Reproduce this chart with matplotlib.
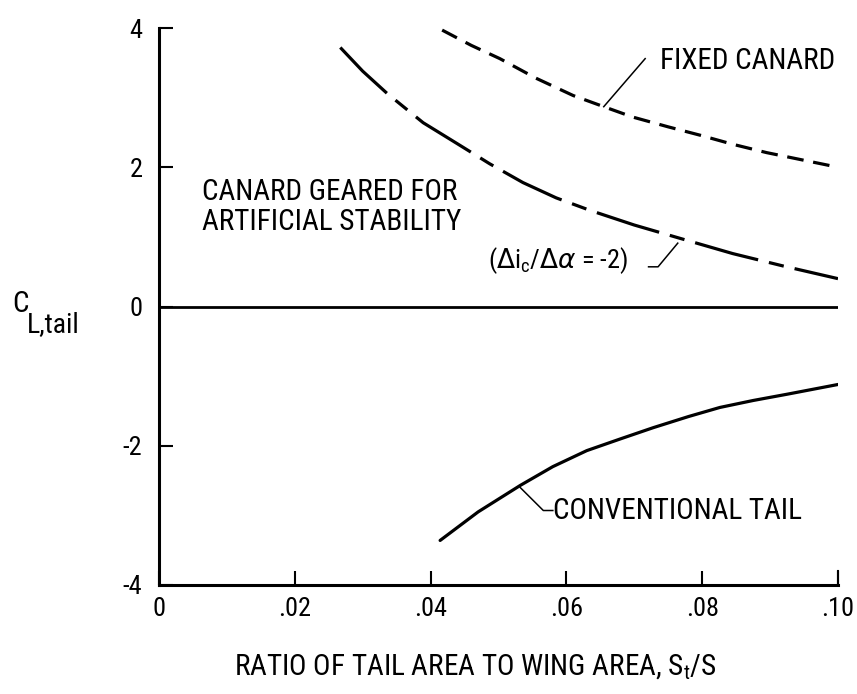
import matplotlib
matplotlib.use('Agg')
import matplotlib.pyplot as plt
from matplotlib import font_manager

# the scan uses a narrow lettering; take a condensed face if one is installed
names = {f.name for f in font_manager.fontManager.ttflist}
family = 'Liberation Sans'
for cand in ['Liberation Sans Narrow', 'Roboto Condensed', 'Open Sans Condensed']:
    if cand in names:
        family = cand
        break

plt.rcParams['font.family'] = [family, 'DejaVu Sans']
plt.rcParams['lines.scale_dashes'] = False

# values
conv_x = [0.0414, 0.0470, 0.0532, 0.0580, 0.0630, 0.0680, 0.0728, 0.0780, 0.0826, 0.0875, 0.0925, 0.1000]
conv_y = [-3.36, -2.95, -2.57, -2.30, -2.07, -1.90, -1.74, -1.58, -1.45, -1.35, -1.26, -1.12]

geared_x = [0.0267, 0.0300, 0.0336, 0.0389, 0.0439, 0.0487, 0.0536, 0.0585, 0.0635, 0.0700, 0.0767, 0.0845, 0.0920, 0.1000]
geared_y = [3.72, 3.38, 3.06, 2.64, 2.34, 2.05, 1.78, 1.56, 1.38, 1.17, 0.98, 0.76, 0.58, 0.40]

fixed_x = [0.0417, 0.0460, 0.0502, 0.0555, 0.0610, 0.0655, 0.0698, 0.0750, 0.0797, 0.0845, 0.0895, 0.0950, 0.1000]
fixed_y = [3.97, 3.75, 3.56, 3.28, 3.03, 2.87, 2.72, 2.58, 2.46, 2.33, 2.21, 2.10, 2.00]

xticks = [0, 0.02, 0.04, 0.06, 0.08, 0.10]
xtick_labels = ['0', '.02', '.04', '.06', '.08', '.10']
yticks = [-4, -2, 0, 2, 4]
ytick_labels = ['-4', '-2', '0', '2', '4']

fig = plt.figure(figsize=(8.57, 6.94), dpi=100)
ax = fig.add_axes([159 / 857, 1 - 585 / 694, (838 - 159) / 857, (585 - 28) / 694])

ax.axhline(0, color='black', lw=2.0)
ax.plot(conv_x, conv_y, color='black', lw=2.3, solid_capstyle='round')
ax.plot(geared_x, geared_y, color='black', lw=2.3, dashes=(47, 8, 11, 8))
ax.plot(fixed_x, fixed_y, color='black', lw=2.3, dashes=(12, 7))

ax.set_xlim(0, 0.10)
ax.set_ylim(-4, 4)
ax.set_xticks(xticks)
ax.set_xticklabels(xtick_labels)
ax.set_yticks(yticks)
ax.set_yticklabels(ytick_labels)
ax.tick_params(direction='in', length=10, width=1.5, labelsize=19, colors='black')
ax.tick_params(axis='x', pad=9)
ax.tick_params(axis='y', pad=12)
for s in ['top', 'right']:
    ax.spines[s].set_visible(False)
for s in ['left', 'bottom']:
    ax.spines[s].set_linewidth(2.2)
# right-hand end tick at .10
ax.plot([0.10, 0.10], [-4, -3.8], color='black', lw=1.5, clip_on=False)

# labels
ax.text(0.0738, 3.53, 'FIXED CANARD', fontsize=21, va='center', ha='left')
ax.plot([0.0655, 0.0716], [2.87, 3.56], color='black', lw=1.1)

ax.text(0.0063, 1.43, 'CANARD GEARED FOR\nARTIFICIAL STABILITY', fontsize=21,
        va='center', ha='left', linespacing=1.1)
ax.text(0.0485, 0.66, r'($\Delta$i$_\mathregular{c}$/$\Delta\alpha$ = -2)', fontsize=19,
        va='center', ha='left')
ax.plot([0.0721, 0.0735, 0.0764], [0.57, 0.57, 0.91], color='black', lw=1.1)

ax.text(0.0580, -2.93, 'CONVENTIONAL TAIL', fontsize=21, va='center', ha='left')
ax.plot([0.0532, 0.0566, 0.0580], [-2.60, -2.93, -2.93], color='black', lw=1.1)

ax.set_xlabel(r'RATIO OF TAIL AREA TO WING AREA, S$_\mathregular{t}$/S', fontsize=21)
ax.xaxis.set_label_coords((475 - 159) / (838 - 159), -(652 - 585) / (585 - 28))

fig.text(12 / 857, 1 - 304 / 694, 'C', fontsize=21, va='center', ha='left')
fig.text(27 / 857, 1 - 325 / 694, 'L,tail', fontsize=20, va='center', ha='left')

fig.savefig('out.png', dpi=100)
